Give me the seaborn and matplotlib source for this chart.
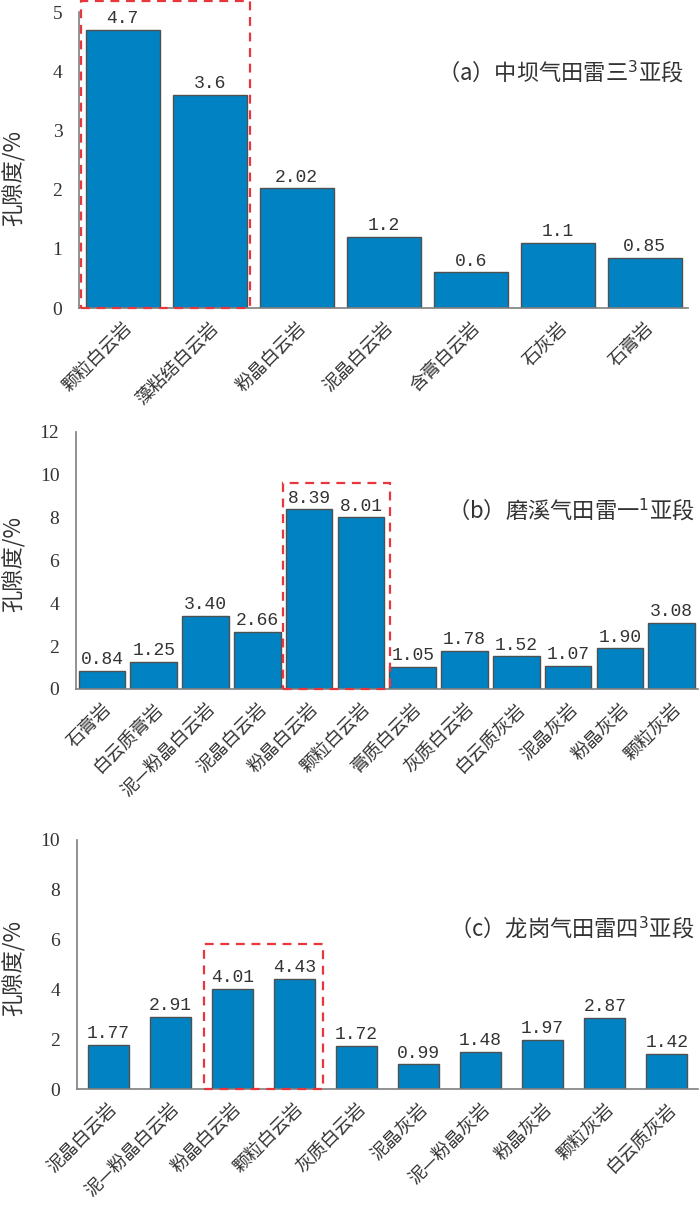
import numpy as np
import pandas as pd
import matplotlib
matplotlib.use("Agg")
import matplotlib.pyplot as plt
import seaborn as sns
from matplotlib.patches import Rectangle

# data
cats_a = ['颗粒白云岩', '藻粘结白云岩', '粉晶白云岩', '泥晶白云岩', '含膏白云岩', '石灰岩', '石膏岩']
vals_a = [4.7, 3.6, 2.02, 1.2, 0.6, 1.1, 0.85]

cats_b = ['石膏岩', '白云质膏岩', '泥—粉晶白云岩', '泥晶白云岩', '粉晶白云岩', '颗粒白云岩',
          '膏质白云岩', '灰质白云岩', '白云质灰岩', '泥晶灰岩', '粉晶灰岩', '颗粒灰岩']
vals_b = [0.84, 1.25, 3.40, 2.66, 8.39, 8.01, 1.05, 1.78, 1.52, 1.07, 1.90, 3.08]

cats_c = ['泥晶白云岩', '泥—粉晶白云岩', '粉晶白云岩', '颗粒白云岩', '灰质白云岩',
          '泥晶灰岩', '泥—粉晶灰岩', '粉晶灰岩', '颗粒灰岩', '白云质灰岩']
vals_c = [1.77, 2.91, 4.01, 4.43, 1.72, 0.99, 1.48, 1.97, 2.87, 1.42]

sns.set_style("white")
plt.rcParams['font.family'] = ['Noto Sans CJK SC', 'DejaVu Sans']

cjk = ['Noto Sans CJK SC', 'DejaVu Sans']
bar_color = '#0082C3'
grey = '#7f7f7f'
txt = '#333333'

fig = plt.figure(figsize=(7, 12.06), dpi=100)

panels = [
    dict(rect=[0.113, 0.7446, 0.870, 0.2454], cats=cats_a, vals=vals_a, ymax=5, yticks=range(0, 6),
         width=0.85, fmt=lambda v: f"{v:g}", title='（a）中坝气田雷三$^3$亚段', ty=3.99,
         box=(-0.48, 1.47, 5.18), ly=0.852),
    dict(rect=[0.1086, 0.4287, 0.888, 0.2131], cats=cats_b, vals=vals_b, ymax=12, yticks=range(0, 13, 2),
         width=0.9, fmt=lambda v: f"{v:.2f}", title='（b）磨溪气田雷一$^1$亚段', ty=8.36,
         box=(3.5, 5.56, 9.62), ly=0.532),
    dict(rect=[0.110, 0.0970, 0.887, 0.2065], cats=cats_c, vals=vals_c, ymax=10, yticks=range(0, 11, 2),
         width=0.66, fmt=lambda v: f"{v:.2f}", title='（c）龙岗气田雷四$^3$亚段', ty=6.47,
         box=(1.55, 3.47, 5.82), ly=0.197),
]

for p in panels:
    ax = fig.add_axes(p['rect'])
    df = pd.DataFrame({'cat': p['cats'], 'val': p['vals']})
    sns.barplot(data=df, x='cat', y='val', ax=ax, color=bar_color, saturation=1,
                width=p['width'], edgecolor='#505050', linewidth=1)
    ax.set_xlim(-0.5, len(p['cats']) - 0.5)
    ax.set_ylim(0, p['ymax'])
    ax.set_yticks(list(p['yticks']))
    ax.set_yticklabels([str(t) for t in p['yticks']], family='Liberation Serif', fontsize=14, color=txt)
    ax.set_xticks(range(len(p['cats'])))
    ax.set_xticklabels(p['cats'], rotation=45, ha='right', rotation_mode='anchor',
                       fontsize=13, color=txt, family=cjk)
    ax.tick_params(axis='x', length=0, pad=8)
    ax.tick_params(axis='y', direction='in', length=3, color=grey, pad=12)
    for s in ['top', 'right']:
        ax.spines[s].set_visible(False)
    for s in ['left', 'bottom']:
        ax.spines[s].set_color(grey)
        ax.spines[s].set_linewidth(1.2)
    ax.set_xlabel('')
    ax.set_ylabel('')
    # y label at a fixed place on the left edge
    fig.text(14 / 700, p['ly'], '孔隙度/%', rotation=90, ha='center', va='center',
             fontsize=16, color=txt, family=cjk)
    ax.bar_label(ax.containers[0], labels=[p['fmt'](v) for v in p['vals']], padding=2,
                 fontsize=13, family='Liberation Mono', color=txt)
    ax.text(len(p['cats']) - 0.55, p['ty'], p['title'], ha='right', va='center',
            fontsize=16, color=txt, family=cjk)
    x0, x1, top = p['box']
    ax.add_patch(Rectangle((x0, 0), x1 - x0, top, fill=False, edgecolor='#e8363d',
                           linestyle=(0, (4, 3)), linewidth=1.6, clip_on=False, zorder=5))

fig.savefig('out.png', dpi=100)
